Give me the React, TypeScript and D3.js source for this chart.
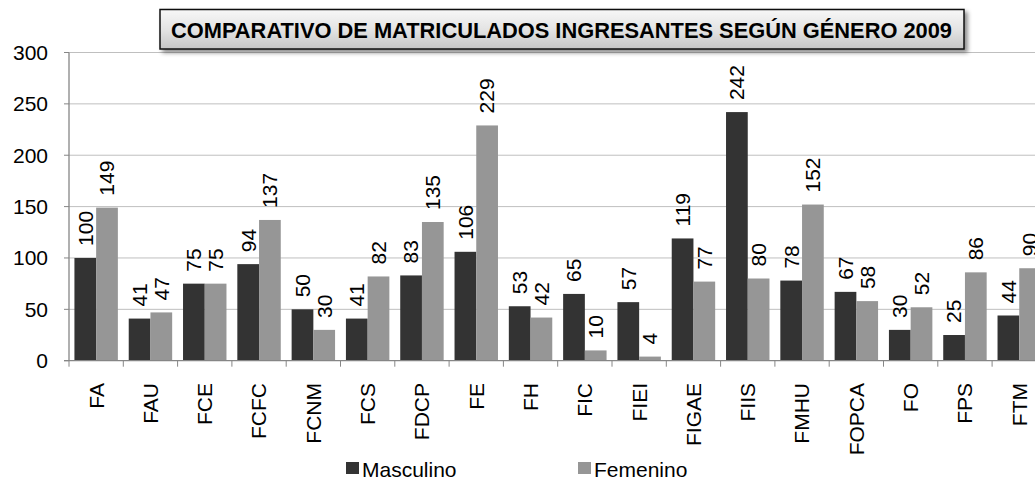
import React from "react";
import * as d3 from "d3";

const categories = ["FA","FAU","FCE","FCFC","FCNM","FCS","FDCP","FE","FH","FIC","FIEI","FIGAE","FIIS","FMHU","FOPCA","FO","FPS","FTM"];
const masculino = [100,41,75,94,50,41,83,106,53,65,57,119,242,78,67,30,25,44];
const femenino = [149,47,75,137,30,82,135,229,42,10,4,77,80,152,58,52,86,90];
const yTicks = [0,50,100,150,200,250,300];
const seriesNames = ["Masculino","Femenino"];
const seriesColors = ["#333333","#969696"];
const title = "COMPARATIVO DE MATRICULADOS INGRESANTES SEGÚN GÉNERO 2009";

export default function App() {
  const W = 1035, H = 480;
  const left = 69, band = 54.3;
  const x = d3.scaleBand<string>().domain(categories).range([left, left + band * categories.length]).paddingInner(0).paddingOuter(0);
  const inner = d3.scaleBand<string>().domain(seriesNames).range([0, band]).paddingInner(0).paddingOuter(0.25);
  const y = d3.scaleLinear().domain([0, 300]).range([360.7, 52.5]);
  const font = "'Liberation Sans', Arial, sans-serif";
  const series = [masculino, femenino];
  const plotRight = left + band * categories.length;

  return (
    <svg width={W} height={H} style={{ position: "absolute", left: 0, top: 0 }} fontFamily={font}>
      <defs>
        <linearGradient id="tg" x1="0" y1="0" x2="0" y2="1">
          <stop offset="0" stopColor="#f7f7f7" />
          <stop offset="0.5" stopColor="#e4e4e4" />
          <stop offset="1" stopColor="#c6c6c6" />
        </linearGradient>
        <filter id="sh" x="-5%" y="-30%" width="110%" height="170%">
          <feDropShadow dx="3" dy="3" stdDeviation="2" floodColor="#000" floodOpacity="0.45" />
        </filter>
        <clipPath id="clip"><rect x={0} y={0} width={W} height={H} /></clipPath>
      </defs>
      <rect width={W} height={H} fill="#fff" />
      {/* gridlines */}
      {yTicks.filter(t => t > 0).map(t => (
        <line key={t} x1={left} x2={plotRight} y1={y(t)} y2={y(t)} stroke="#bfbfbf" strokeWidth={1} />
      ))}
      {/* y ticks */}
      {yTicks.map(t => (
        <g key={"yt" + t}>
          <line x1={left - 5} x2={left} y1={y(t)} y2={y(t)} stroke="#868686" strokeWidth={1} />
          <text x={48} y={y(t)} dy="0.35em" textAnchor="end" fontSize={21} fill="#000">{t}</text>
        </g>
      ))}
      {/* bars */}
      <g clipPath="url(#clip)">
        {categories.map((c, i) => (
          <g key={c}>
            {series.map((s, k) => {
              const bx = (x(c) as number) + (inner(seriesNames[k]) as number);
              const bw = inner.bandwidth();
              return (
                <g key={k}>
                  <rect x={bx} y={y(s[i])} width={bw} height={y(0) - y(s[i])} fill={seriesColors[k]} />
                  <text transform={`translate(${bx + bw / 2},${y(s[i]) - 12}) rotate(-90)`} dy="0.35em" textAnchor="start" fontSize={21} fill="#000">{s[i]}</text>
                </g>
              );
            })}
          </g>
        ))}
      </g>
      {/* axes */}
      <line x1={left} x2={left} y1={y(300)} y2={y(0)} stroke="#868686" strokeWidth={1.3} />
      <line x1={left - 5} x2={plotRight} y1={y(0)} y2={y(0)} stroke="#868686" strokeWidth={1.3} />
      {categories.map((c, i) => (
        <line key={"xt" + c} x1={x(c) as number} x2={x(c) as number} y1={y(0)} y2={y(0) + 6} stroke="#868686" strokeWidth={1} />
      ))}
      {categories.map(c => (
        <text key={"xl" + c} transform={`translate(${(x(c) as number) + band / 2},383) rotate(-90)`} dy="0.35em" textAnchor="end" fontSize={21} fill="#000">{c}</text>
      ))}
      {/* title */}
      <rect x={160} y={9.5} width={804} height={39.5} fill="url(#tg)" stroke="#111" strokeWidth={1.5} filter="url(#sh)" />
      <text x={561.5} y={38.3} textAnchor="middle" fontSize={21.5} fontWeight="bold" fill="#000" textLength={781} lengthAdjust="spacingAndGlyphs">{title}</text>
      {/* legend */}
      {seriesNames.map((n, k) => {
        const lx = [346, 578][k];
        return (
          <g key={n}>
            <rect x={lx} y={462} width={13} height={12} fill={seriesColors[k]} />
            <text x={lx + 16} y={476.5} fontSize={21} fill="#000">{n}</text>
          </g>
        );
      })}
    </svg>
  );
}
